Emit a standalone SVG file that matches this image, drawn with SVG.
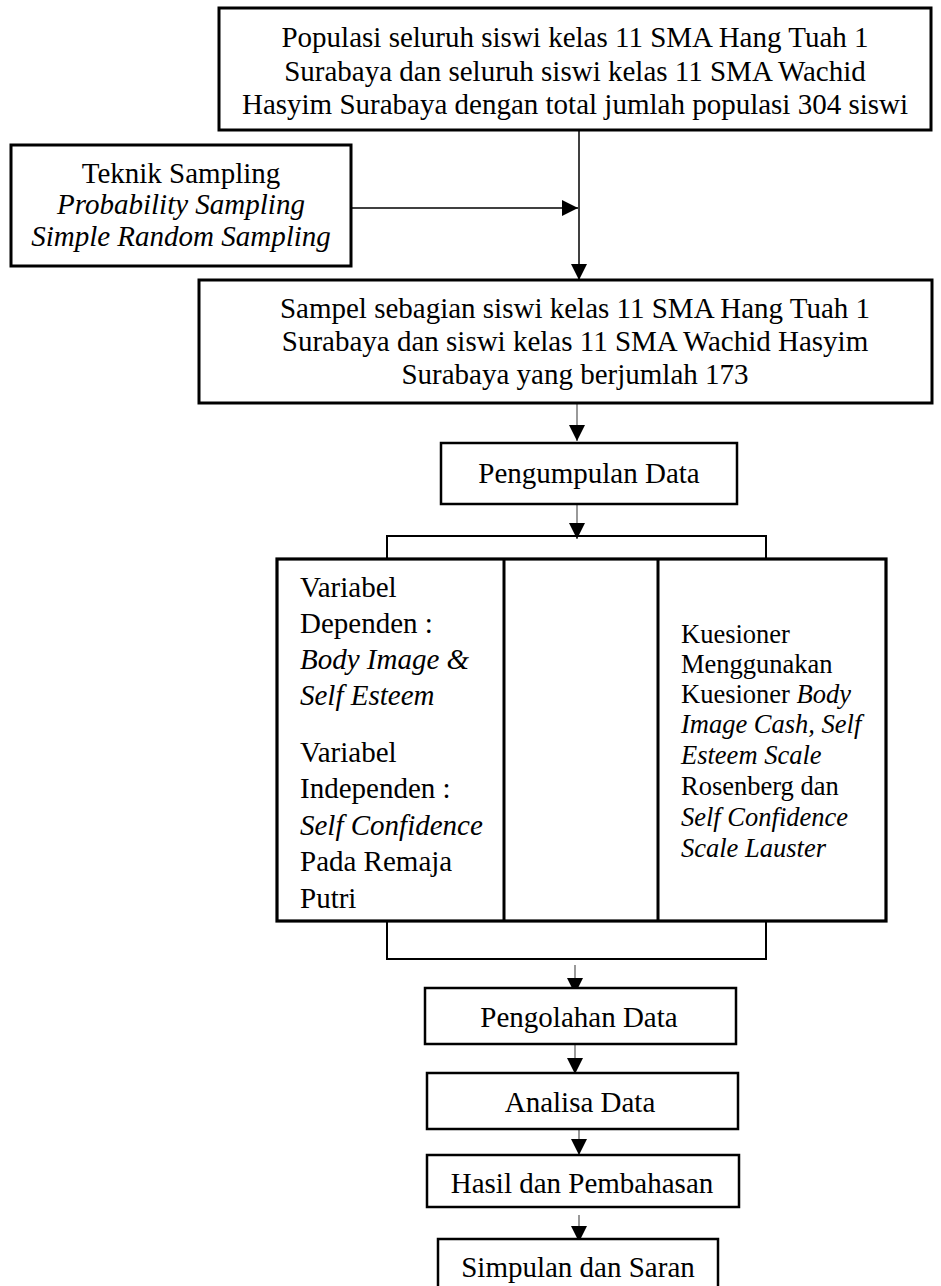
<svg xmlns="http://www.w3.org/2000/svg" width="941" height="1286" viewBox="0 0 941 1286">
<style>
.box{fill:#fff;stroke:#000;stroke-width:2.5}
.big{fill:#fff;stroke:#000;stroke-width:3}
.thick{fill:#fff;stroke:#000;stroke-width:3.2}
.thin{fill:none;stroke:#000;stroke-width:2}
.t{font-family:"Liberation Serif","Times New Roman",serif;font-size:29px;fill:#000}
.c{text-anchor:middle}
.s{font-size:26.5px}
.i{font-style:italic}
.con{fill:none;stroke:#000;stroke-width:1.5}
.gray{fill:none;stroke:#808080;stroke-width:1.6}
</style>
<defs>
<marker id="ah" markerUnits="userSpaceOnUse" markerWidth="16" markerHeight="16" refX="16" refY="8" orient="auto">
<path d="M0,0 L16,8 L0,16 z" fill="#000"/>
</marker>
</defs>
<g id="connectors">
<line class="con" x1="579" y1="130" x2="579" y2="280" marker-end="url(#ah)"/>
<line class="con" x1="352" y1="208" x2="578" y2="208" marker-end="url(#ah)"/>
<line class="gray" x1="577" y1="403" x2="577" y2="441" marker-end="url(#ah)"/>
<line class="gray" x1="577" y1="504" x2="577" y2="539" marker-end="url(#ah)"/>
<line class="gray" x1="575" y1="965" x2="575" y2="994" marker-end="url(#ah)"/>
<line class="gray" x1="575" y1="1044" x2="575" y2="1074" marker-end="url(#ah)"/>
<line class="gray" x1="579" y1="1129" x2="579" y2="1155" marker-end="url(#ah)"/>
<line class="gray" x1="579" y1="1215" x2="579" y2="1242" marker-end="url(#ah)"/>
</g>
<g id="populasi">
<rect class="big" x="219" y="8" width="712" height="122"/>
<text class="t c" x="575" y="47">Populasi seluruh siswi kelas 11 SMA Hang Tuah 1</text>
<text class="t c" x="575" y="80.5">Surabaya dan seluruh siswi kelas 11 SMA Wachid</text>
<text class="t c" x="575" y="114">Hasyim Surabaya dengan total jumlah populasi 304 siswi</text>
</g>
<g id="teknik">
<rect class="big" x="11" y="145" width="340" height="121"/>
<text class="t c" x="181" y="183">Teknik Sampling</text>
<text class="t c i" x="181" y="214">Probability Sampling</text>
<text class="t c i" x="181" y="246">Simple Random Sampling</text>
</g>
<g id="sampel">
<rect class="big" x="199" y="280" width="733" height="123"/>
<text class="t c" x="575" y="318">Sampel sebagian siswi kelas 11 SMA Hang Tuah 1</text>
<text class="t c" x="575" y="351">Surabaya dan siswi kelas 11 SMA Wachid Hasyim</text>
<text class="t c" x="575" y="384">Surabaya yang berjumlah 173</text>
</g>
<g id="pengumpulan">
<rect class="box" x="441" y="443" width="296" height="61"/>
<text class="t c" x="589" y="483">Pengumpulan Data</text>
</g>
<g id="bracket-top">
<rect class="thin" x="387" y="536" width="379" height="23"/>
</g>
<g id="variabel">
<rect class="thick" x="277" y="559" width="609" height="362"/>
<line x1="504" y1="559" x2="504" y2="921" stroke="#000" stroke-width="3"/>
<line x1="658" y1="559" x2="658" y2="921" stroke="#000" stroke-width="3"/>
<text class="t" x="300" y="597" font-size="29.5">Variabel</text>
<text class="t" x="300" y="633" font-size="29.5">Dependen :</text>
<text class="t i" x="300" y="669" font-size="29.5">Body Image &amp;</text>
<text class="t i" x="300" y="705" font-size="29.5">Self Esteem</text>
<text class="t" x="300" y="762" font-size="29.5">Variabel</text>
<text class="t" x="300" y="798" font-size="29.5">Independen :</text>
<text class="t i" x="300" y="835" font-size="29.5">Self Confidence</text>
<text class="t" x="300" y="871" font-size="29.5">Pada Remaja</text>
<text class="t" x="300" y="908" font-size="29.5">Putri</text>
<text class="t s" x="681" y="643">Kuesioner</text>
<text class="t s" x="681" y="673">Menggunakan</text>
<text class="t s" x="681" y="703">Kuesioner <tspan class="i">Body</tspan></text>
<text class="t s i" x="681" y="733">Image Cash, Self</text>
<text class="t s i" x="681" y="764">Esteem Scale</text>
<text class="t s" x="681" y="795">Rosenberg dan</text>
<text class="t s i" x="681" y="826">Self Confidence</text>
<text class="t s i" x="681" y="857">Scale Lauster</text>
</g>
<g id="bracket-bottom">
<rect class="thin" x="387" y="921" width="379" height="38"/>
</g>
<g id="pengolahan">
<rect class="box" x="425" y="988" width="311" height="56"/>
<text class="t c" x="579" y="1027">Pengolahan Data</text>
</g>
<g id="analisa">
<rect class="box" x="427" y="1073" width="311" height="56"/>
<text class="t c" x="580" y="1112">Analisa Data</text>
</g>
<g id="hasil">
<rect class="box" x="427" y="1155" width="312" height="52"/>
<text class="t c" x="582" y="1193">Hasil dan Pembahasan</text>
</g>
<g id="simpulan">
<rect class="box" x="438" y="1239" width="280" height="60"/>
<text class="t c" x="578" y="1277">Simpulan dan Saran</text>
</g>
</svg>
